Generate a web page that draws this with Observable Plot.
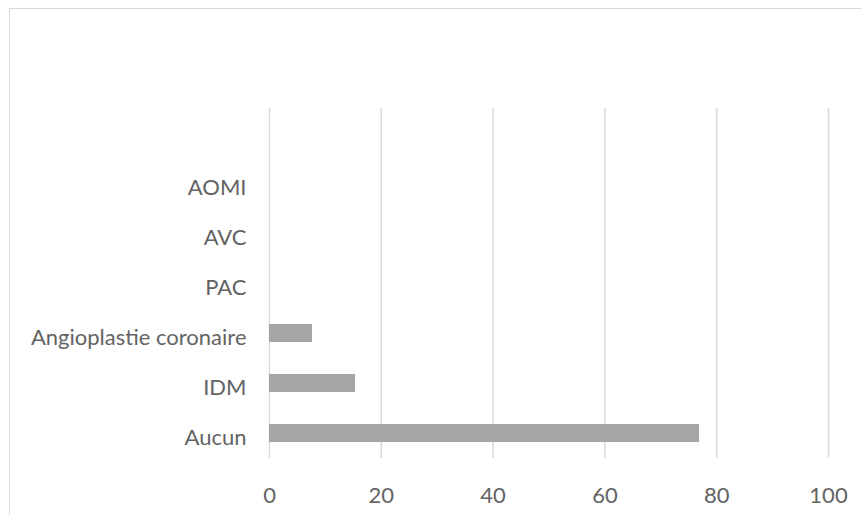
<!DOCTYPE html>
<html lang="fr">
<head>
<meta charset="utf-8">
<script src="https://cdn.jsdelivr.net/npm/d3@7"></script>
<script src="https://cdn.jsdelivr.net/npm/@observablehq/plot@0.6"></script>
<style>
  html, body { margin: 0; padding: 0; background: #fff; overflow: hidden; }
  #wrap { position: relative; width: 861px; height: 515px; overflow: hidden; }
  #border {
    position: absolute; left: 9px; top: 8px; width: 1000px; height: 700px;
    border-left: 1.5px solid #d9d9d9; border-top: 1.5px solid #d9d9d9;
    pointer-events: none;
  }
  #chart { position: absolute; left: 0; top: 0; }
</style>
</head>
<body>
<div id="wrap">
  <div id="chart"></div>
  <div id="border"></div>
</div>
<script>
// Antécédents cardiovasculaires (%)
const categories = ["Aucun", "IDM", "Angioplastie coronaire", "PAC", "AVC", "AOMI"];
const values = [76.92, 15.38, 7.69, 0, 0, 0];
const xTicks = [0, 20, 40, 60, 80, 100];

const data = categories.map((c, i) => ({category: c, value: values[i]}));

// Top-to-bottom order, with an empty slot above the first category
const yDomain = ["", ...categories.slice().reverse()];

const chart = Plot.plot({
  width: 861,
  height: 515,
  marginLeft: 269,
  marginRight: 33,
  marginTop: 108,
  marginBottom: 57,
  style: {
    fontFamily: "Lato, 'Open Sans', sans-serif",
    fontSize: "22px",
    color: "#636363",
    background: "transparent"
  },
  x: {
    domain: [0, 100],
    ticks: xTicks,
    tickSize: 0,
    tickPadding: 29,
    label: null
  },
  y: {
    domain: yDomain,
    paddingInner: 0.646,
    paddingOuter: 0.323,
    tickSize: 0,
    tickPadding: 23,
    label: null
  },
  marks: [
    Plot.ruleX(xTicks, {stroke: "#d9d9d9", strokeWidth: 1.5, strokeOpacity: 1}),
    Plot.barX(data, {x: "value", y: "category", fill: "#a5a5a5"})
  ]
});

// Category labels sit slightly below the bar centre line
d3.select(chart).selectAll('g[aria-label^="y-axis"] text').attr("dy", "0.18em");

document.getElementById("chart").appendChild(chart);
</script>
</body>
</html>
